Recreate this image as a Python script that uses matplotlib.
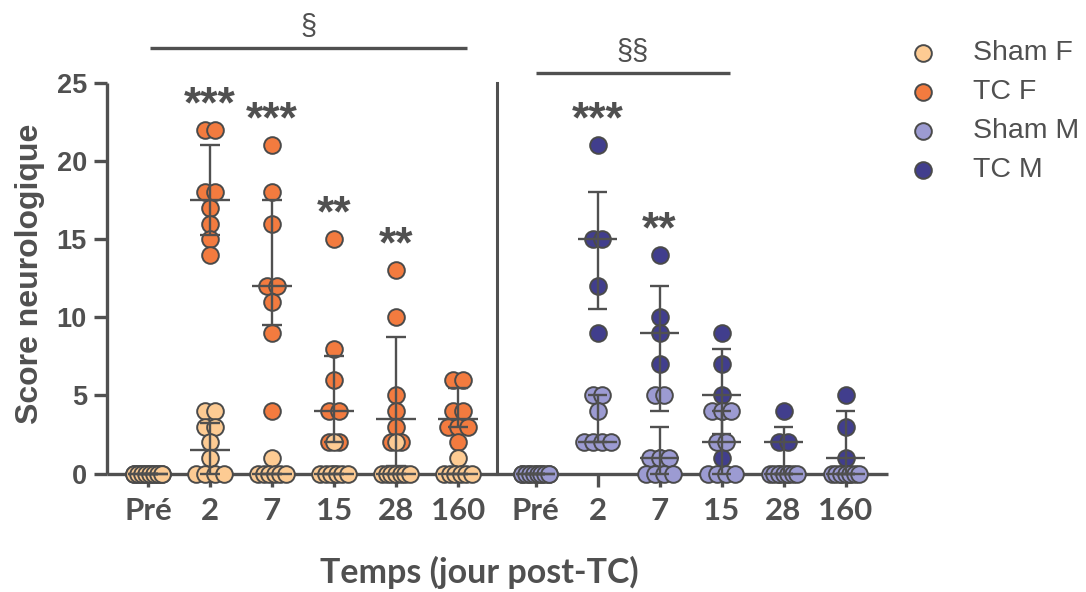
import matplotlib
matplotlib.use("Agg")
import matplotlib.pyplot as plt
import numpy as np

# ---------------- data ----------------
days = ["Pré", "2", "7", "15", "28", "160"]
series_names = ["Sham F", "TC F", "Sham M", "TC M"]

sham_f = [
    [0, 0, 0, 0, 0, 0, 0, 0],
    [4, 4, 3, 3, 2, 1, 0, 0, 0, 0],
    [1, 0, 0, 0, 0, 0, 0],
    [2, 0, 0, 0, 0, 0, 0],
    [2, 0, 0, 0, 0, 0, 0, 0],
    [1, 0, 0, 0, 0, 0, 0],
]
tc_f = [
    [0, 0, 0, 0, 0, 0, 0, 0],
    [22, 22, 18, 18, 17, 16, 15, 14],
    [21, 18, 16, 12, 12, 11, 9, 4],
    [15, 8, 6, 4, 4, 2, 2, 0],
    [13, 10, 5, 4, 3, 2, 2, 0],
    [6, 6, 4, 4, 3, 3, 3, 2],
]
sham_m = [
    [0, 0, 0, 0, 0, 0, 0, 0],
    [5, 5, 4, 2, 2, 2, 2],
    [5, 5, 1, 1, 1, 0, 0, 0, 0],
    [4, 4, 4, 2, 2, 0, 0, 0, 0],
    [0, 0, 0, 0, 0, 0, 0],
    [0, 0, 0, 0, 0, 0, 0],
]
tc_m = [
    [0, 0, 0, 0, 0],
    [21, 15, 15, 12, 9],
    [14, 10, 9, 7, 1],
    [9, 7, 5, 4, 1],
    [4, 2, 2, 0, 0],
    [5, 3, 1, 0, 0],
]

# median and interquartile range
sham_f_med = [0, 1.5, 0, 0, 0, 0]
sham_f_q1 = [0, 0, 0, 0, 0, 0]
sham_f_q3 = [0, 3.25, 0, 0, 0, 0]
tc_f_med = [0, 17.5, 12, 4, 3.5, 3.5]
tc_f_q1 = [0, 15.25, 9.5, 2, 0.5, 3]
tc_f_q3 = [0, 21, 17.5, 7.5, 8.75, 5.5]
sham_m_med = [0, 2, 1, 2, 0, 0]
sham_m_q1 = [0, 2, 0, 0, 0, 0]
sham_m_q3 = [0, 5, 3, 4, 0, 0]
tc_m_med = [0, 15, 9, 5, 2, 1]
tc_m_q1 = [0, 10.5, 4, 2.5, 0, 0]
tc_m_q3 = [0, 18, 12, 8, 3, 4]

stars_f = ["", "***", "***", "**", "**", ""]
stars_m = ["", "***", "**", "", "", ""]
section_f = "§"
section_m = "§§"

# ---------------- style ----------------
col_sham_f = "#FDCB93"
col_tc_f = "#F37B3F"
col_sham_m = "#9C9BD2"
col_tc_m = "#413E8D"
edge = "#4A4A4A"
ink = "#505050"
lw_axis = 2.4
msize = 12.0

fig = plt.figure(figsize=(10.86, 5.92), dpi=100)
W, H = 1086, 592
x0px, x1px, y0px, y1px = 107, 888, 473.5, 83
ax = fig.add_axes([x0px / W, 1 - y0px / H, (x1px - x0px) / W, (y0px - y1px) / H])
ax.set_xlim(-0.661, 11.935)
ax.set_ylim(0, 25)

for s in ["top", "right"]:
    ax.spines[s].set_visible(False)
for s in ["left", "bottom"]:
    ax.spines[s].set_linewidth(lw_axis)
    ax.spines[s].set_color(ink)
    ax.spines[s].set_capstyle("butt")

pos_f = np.arange(6, dtype=float)
pos_m = np.arange(6, dtype=float) + 6.25


def spread(vals, center):
    """x positions for one series: equal values are spread side by side."""
    out = [None] * len(vals)
    by_val = {}
    for j, v in enumerate(vals):
        by_val.setdefault(v, []).append(j)
    for v, items in by_val.items():
        k = len(items)
        step = 0.16 if k < 2 else min(0.16, 0.45 / (k - 1))
        for i, j in enumerate(items):
            out[j] = center + (i - (k - 1) / 2) * step
    return out


def draw_panel(pos, sham, tc, col_sham, col_tc, meds, q1s, q3s):
    for g in range(len(pos)):
        ax.scatter(spread(tc[g], pos[g]), tc[g], s=msize ** 2, color=col_tc,
                   edgecolors=edge, linewidths=1.4, zorder=3, clip_on=False)
        ax.scatter(spread(sham[g], pos[g]), sham[g], s=msize ** 2, color=col_sham,
                   edgecolors=edge, linewidths=1.4, zorder=4, clip_on=False)
    for med, q1, q3 in zip(meds, q1s, q3s):
        for g in range(len(pos)):
            x = pos[g]
            kw = dict(color=ink, lw=1.7, zorder=5, solid_capstyle="butt", clip_on=False)
            ax.plot([x, x], [q1[g], q3[g]], **kw)
            ax.plot([x - 0.16, x + 0.16], [q1[g], q1[g]], **kw)
            ax.plot([x - 0.16, x + 0.16], [q3[g], q3[g]], **kw)
            ax.plot([x - 0.32, x + 0.32], [med[g], med[g]], **kw)


draw_panel(pos_f, sham_f, tc_f, col_sham_f, col_tc_f,
           [sham_f_med, tc_f_med], [sham_f_q1, tc_f_q1], [sham_f_q3, tc_f_q3])
draw_panel(pos_m, sham_m, tc_m, col_sham_m, col_tc_m,
           [sham_m_med, tc_m_med], [sham_m_q1, tc_m_q1], [sham_m_q3, tc_m_q3])

# stars above groups
for pos, tcv, stars in [(pos_f, tc_f, stars_f), (pos_m, tc_m, stars_m)]:
    for g, st in enumerate(stars):
        if st:
            ax.text(pos[g], max(tcv[g]) + 1.55, st, ha="center", va="center",
                    fontsize=32, fontweight="bold", color=ink,
                    family="Liberation Sans", clip_on=False)

# divider
ax.plot([5.63, 5.63], [0, 25], color=ink, lw=2.2, clip_on=False, zorder=2)

# section brackets
ax.plot([pos_f[0] + 0.03, pos_f[5] + 0.15], [27.24, 27.24], color=ink, lw=2.4,
        clip_on=False, solid_capstyle="butt")
ax.text((pos_f[0] + pos_f[5] + 0.18) / 2, 28.6, section_f, ha="center", va="center",
        fontsize=21, color=ink, family="Liberation Sans", clip_on=False)
ax.plot([pos_m[0], pos_m[3] + 0.14], [25.64, 25.64], color=ink, lw=2.4,
        clip_on=False, solid_capstyle="butt")
ax.text((pos_m[0] + pos_m[3] + 0.14) / 2, 27.0, section_m, ha="center", va="center",
        fontsize=21, color=ink, family="Liberation Sans", clip_on=False)

# ticks
ax.set_yticks([0, 5, 10, 15, 20, 25])
ax.set_yticklabels(["0", "5", "10", "15", "20", "25"], fontsize=19.5, fontweight="bold",
                   color=ink, family="Liberation Sans")
ax.tick_params(axis="y", length=9.5, width=lw_axis, color=ink, pad=5)
ax.set_xticks(list(pos_f) + list(pos_m))
ax.set_xticklabels(days + days, fontsize=22.5, fontweight="bold", color=ink, family="Lato")
ax.tick_params(axis="x", length=9, width=lw_axis, color=ink, pad=8)

fig.text(479 / W, 1 - 583 / H, "Temps (jour post-TC)", ha="center", va="baseline",
         fontsize=24.5, fontweight="bold", color=ink, family="Lato")
fig.text(30 / W, 1 - 274 / H, "Score neurologique", ha="center", va="center",
         rotation=90, fontsize=23, fontweight="bold", color=ink, family="Liberation Sans")

# legend
leg_cols = [col_sham_f, col_tc_f, col_sham_m, col_tc_m]
leg_y = [53, 92, 131, 170]
for name, c, yy in zip(series_names, leg_cols, leg_y):
    fig.add_artist(plt.Line2D([923 / W], [1 - yy / H], marker="o", markersize=msize,
                              markerfacecolor=c, markeredgecolor=edge, markeredgewidth=1.4,
                              linestyle="none", transform=fig.transFigure))
    fig.text(973 / W, 1 - yy / H, name, ha="left", va="center", fontsize=20.5,
             color=ink, family="Liberation Sans")

fig.savefig("out.png", dpi=100)
